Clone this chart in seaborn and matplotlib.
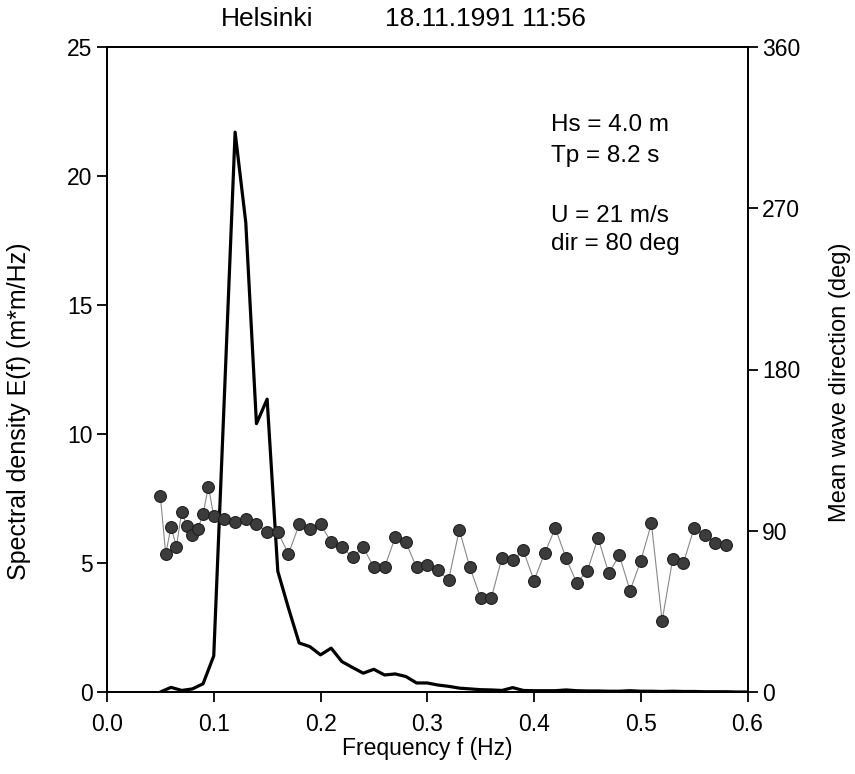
import numpy as np
import pandas as pd
import matplotlib
matplotlib.use("Agg")
import matplotlib.pyplot as plt
import seaborn as sns

# ---- data ----
freq_spec = [0.05, 0.06, 0.07, 0.08, 0.09, 0.10, 0.11, 0.12, 0.13, 0.14, 0.15,
             0.16, 0.17, 0.18, 0.19, 0.20, 0.21, 0.22, 0.23, 0.24, 0.25, 0.26,
             0.27, 0.28, 0.29, 0.30, 0.31, 0.32, 0.33, 0.34, 0.35, 0.36, 0.37,
             0.38, 0.39, 0.40, 0.41, 0.42, 0.43, 0.44, 0.45, 0.46, 0.47, 0.48,
             0.49, 0.50, 0.51, 0.52, 0.53, 0.54, 0.55, 0.56, 0.57, 0.58, 0.59, 0.60]
energy = [0.0, 0.18, 0.06, 0.12, 0.32, 1.4, 11.5, 21.7, 18.2, 10.4, 11.35,
          4.68, 3.25, 1.9, 1.76, 1.44, 1.70, 1.18, 0.95, 0.73, 0.88, 0.66,
          0.70, 0.60, 0.35, 0.35, 0.27, 0.22, 0.15, 0.12, 0.09, 0.08, 0.06,
          0.17, 0.06, 0.05, 0.05, 0.05, 0.08, 0.05, 0.04, 0.04, 0.03, 0.03,
          0.05, 0.03, 0.03, 0.02, 0.03, 0.02, 0.02, 0.01, 0.01, 0.01, 0.0, 0.0]

freq_dir = [0.05, 0.055, 0.06, 0.065, 0.07, 0.075, 0.08, 0.085, 0.09, 0.095, 0.10,
            0.11, 0.12, 0.13, 0.14, 0.15, 0.16, 0.17, 0.18, 0.19, 0.20, 0.21,
            0.22, 0.23, 0.24, 0.25, 0.26, 0.27, 0.28, 0.29, 0.30, 0.31, 0.32,
            0.33, 0.34, 0.35, 0.36, 0.37, 0.38, 0.39, 0.40, 0.41, 0.42, 0.43,
            0.44, 0.45, 0.46, 0.47, 0.48, 0.49, 0.50, 0.51, 0.52, 0.53, 0.54,
            0.55, 0.56, 0.57, 0.58]
direction = [109.2, 77.0, 92.2, 81.2, 100.6, 92.4, 87.9, 90.7, 99.5, 114.6, 98.2,
             96.5, 95.0, 96.3, 93.7, 89.4, 89.3, 77.0, 93.5, 90.9, 93.5, 83.8,
             81.0, 75.2, 80.8, 69.5, 69.5, 86.4, 83.5, 69.5, 71.0, 67.9, 62.5,
             90.5, 69.5, 52.6, 52.5, 74.9, 73.6, 79.0, 62.2, 77.6, 91.5, 74.7,
             60.9, 67.6, 86.1, 66.3, 76.2, 56.6, 73.2, 94.1, 39.7, 74.5, 72.1,
             91.5, 87.4, 83.1, 81.8]

x_ticks = [0.0, 0.1, 0.2, 0.3, 0.4, 0.5, 0.6]
y_ticks = [0, 5, 10, 15, 20, 25]
dir_ticks = [0, 90, 180, 270, 360]

title_place = "Helsinki"
title_time = "18.11.1991 11:56"
info_lines = ["Hs = 4.0 m", "Tp = 8.2 s", "U = 21 m/s", "dir = 80 deg"]

df_spec = pd.DataFrame({"f": freq_spec, "E": energy})
df_dir = pd.DataFrame({"f": freq_dir, "dir": direction})

sns.set_theme(style="ticks")
plt.rcParams['font.family'] = ['Liberation Sans', 'DejaVu Sans']
plt.rcParams['text.color'] = 'black'
plt.rcParams['axes.labelcolor'] = 'black'

W, H = 855, 774
fig = plt.figure(figsize=(W / 100, H / 100), dpi=100)
ax = fig.add_axes([107 / W, 1 - 692 / H, (747.5 - 107) / W, (692 - 47) / H])

sns.lineplot(data=df_spec, x="f", y="E", ax=ax, color="black", linewidth=2.3)
ax.set_xlim(0, 0.6)
ax.set_ylim(0, 25)
ax.set_xticks(x_ticks)
ax.set_xticklabels([f"{v:.1f}" for v in x_ticks])
ax.set_yticks(y_ticks)
ax.set_xlabel("Frequency f (Hz)", fontsize=16.5)
ax.set_ylabel("Spectral density E(f) (m*m/Hz)", fontsize=18)
ax.xaxis.set_label_coords(0.5, -0.07)
ax.yaxis.set_label_coords(-0.118, 0.435)
ax.tick_params(axis="both", labelsize=16.5, length=7, width=1.3, direction="out", colors="black")
ax.tick_params(axis="x", pad=8)
for s in ax.spines.values():
    s.set_linewidth(1.3)
    s.set_color("black")

ax2 = ax.twinx()
sns.lineplot(data=df_dir, x="f", y="dir", ax=ax2, color="#888888", linewidth=0.8,
             marker="o", markersize=8.5, markerfacecolor="#3c3c3c",
             markeredgecolor="#1e1e1e", markeredgewidth=0.8)
ax2.set_ylim(0, 360)
ax2.set_yticks(dir_ticks)
ax2.set_ylabel("Mean wave direction (deg)", fontsize=17)
ax2.yaxis.set_label_coords(1.127, 0.48)
ax2.tick_params(axis="y", labelsize=16.5, length=7, width=1.3, direction="out", colors="black")
for s in ax2.spines.values():
    s.set_linewidth(1.3)
    s.set_color("black")

fig.text(221 / W, 1 - 19 / H, title_place, fontsize=19, ha="left", va="center")
fig.text(385 / W, 1 - 19 / H, title_time, fontsize=19, ha="left", va="center")

ys = [125, 156, 216, 244]
for line, yy in zip(info_lines, ys):
    fig.text(551 / W, 1 - yy / H, line, fontsize=17.5, ha="left", va="center")

fig.savefig("out.png", dpi=100)
